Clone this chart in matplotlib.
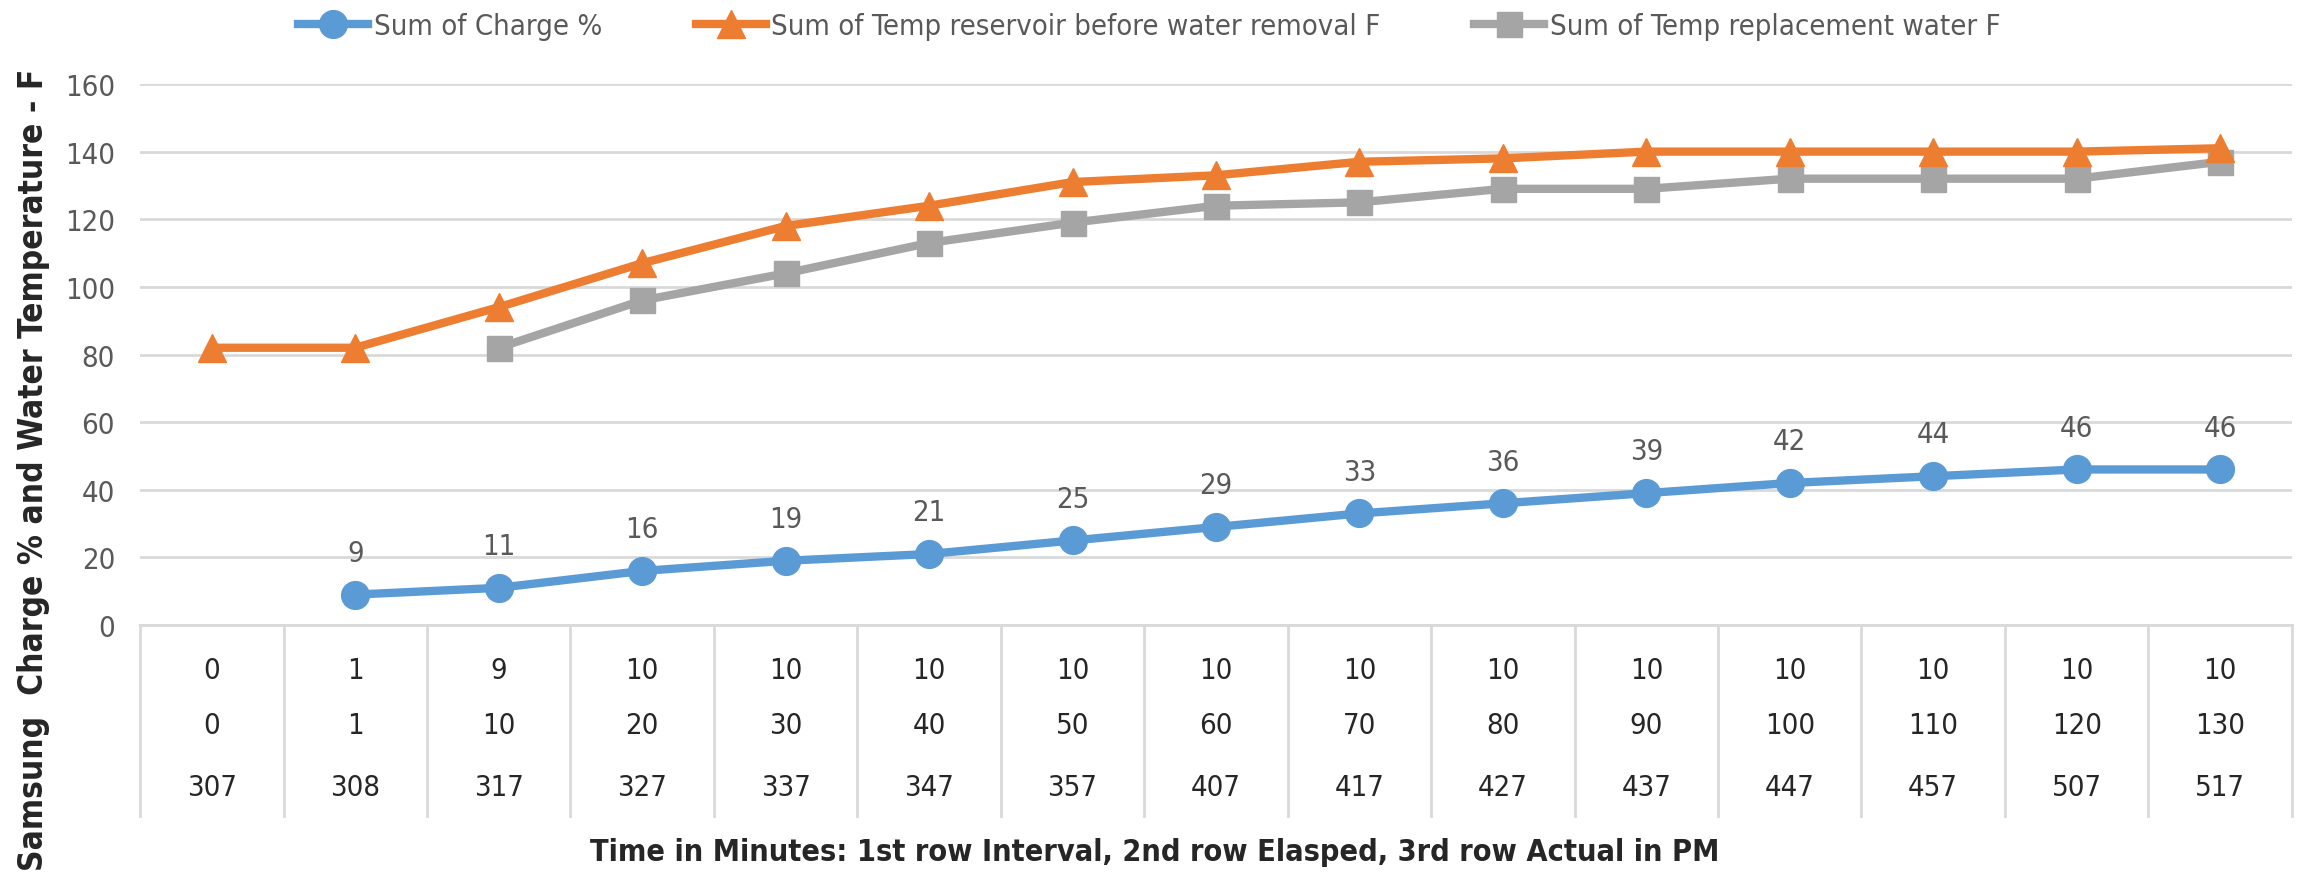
import matplotlib
matplotlib.use("Agg")
import matplotlib.pyplot as plt
import matplotlib.transforms as mtransforms
from matplotlib import font_manager as fm
import numpy as np

# pick a narrow face, close to the Calibri look of the original
names = {f.name for f in fm.fontManager.ttflist}
if 'Liberation Sans Narrow' in names:
    plt.rcParams['font.family'] = ['Liberation Sans Narrow', 'DejaVu Sans']
else:
    plt.rcParams['font.family'] = ['DejaVu Sans']
    plt.rcParams['font.stretch'] = 'condensed'

# data
interval = [0, 1, 9, 10, 10, 10, 10, 10, 10, 10, 10, 10, 10, 10, 10]
elapsed = [0, 1, 10, 20, 30, 40, 50, 60, 70, 80, 90, 100, 110, 120, 130]
actual_pm = [307, 308, 317, 327, 337, 347, 357, 407, 417, 427, 437, 447, 457, 507, 517]
charge = [np.nan, 9, 11, 16, 19, 21, 25, 29, 33, 36, 39, 42, 44, 46, 46]
temp_reservoir = [82, 82, 94, 107, 118, 124, 131, 133, 137, 138, 140, 140, 140, 140, 141]
temp_replacement = [np.nan, np.nan, 82, 96, 104, 113, 119, 124, 125, 129, 129, 132, 132, 132, 137]

blue = '#5B9BD5'
orange = '#ED7D31'
gray = '#A5A5A5'
txt = '#595959'
grid = '#D9D9D9'

fig = plt.figure(figsize=(23.08, 8.79), dpi=100)
ax = fig.add_axes([0.0607, 0.2878, 0.9323, 0.6155])

x = np.arange(len(interval))
ax.plot(x, charge, color=blue, lw=6, marker='o', ms=20, label='Sum of Charge %', zorder=4)
ax.plot(x, temp_reservoir, color=orange, lw=6, marker='^', ms=20, label='Sum of Temp reservoir before water removal F', zorder=3)
ax.plot(x, temp_replacement, color=gray, lw=6, marker='s', ms=18, label='Sum of Temp replacement water F', zorder=2)

# data labels on charge
for i, v in enumerate(charge):
    if not np.isnan(v):
        ax.annotate(str(v), (i, v), xytext=(0, 20), textcoords='offset points',
                    ha='center', va='bottom', fontsize=21, color=txt)

ax.set_xlim(-0.5, len(interval) - 0.5)
ax.set_ylim(0, 160)
ax.set_yticks(range(0, 161, 20))
ax.tick_params(axis='y', length=0, labelsize=21, labelcolor=txt, pad=18)
ax.set_xticks([])
ax.grid(axis='y', color=grid, lw=2)
ax.set_axisbelow(True)
for s in ['top', 'right', 'left']:
    ax.spines[s].set_visible(False)
ax.spines['bottom'].set_color(grid)
ax.spines['bottom'].set_linewidth(2)

# the table under the axis
trans = mtransforms.blended_transform_factory(ax.transData, ax.transAxes)
for b in np.arange(len(interval) + 1) - 0.5:
    ax.plot([b, b], [0, -0.353], transform=trans, color=grid, lw=2, clip_on=False)
rows = [(interval, -0.083), (elapsed, -0.185), (actual_pm, -0.300)]
for vals, yy in rows:
    for i, v in enumerate(vals):
        ax.text(i, yy, str(v), transform=trans, ha='center', va='center',
                fontsize=21, color='#262626')

fig.text(0.5005, 0.030, 'Time in Minutes: 1st row Interval, 2nd row Elasped, 3rd row Actual in PM',
         ha='center', va='center', fontsize=22, fontweight='bold', color='#262626')
fig.text(0.0145, 0.466, 'Samsung  Charge % and Water Temperature - F', rotation=90,
         ha='center', va='center', fontsize=24, fontweight='bold', color='#262626')

fig.legend(loc='upper center', bbox_to_anchor=(0.498, 1.015), ncol=3, frameon=False,
           fontsize=21, labelcolor=txt, handlelength=2.4, columnspacing=3.2,
           handletextpad=0.2)

fig.savefig('out.png', dpi=100)
